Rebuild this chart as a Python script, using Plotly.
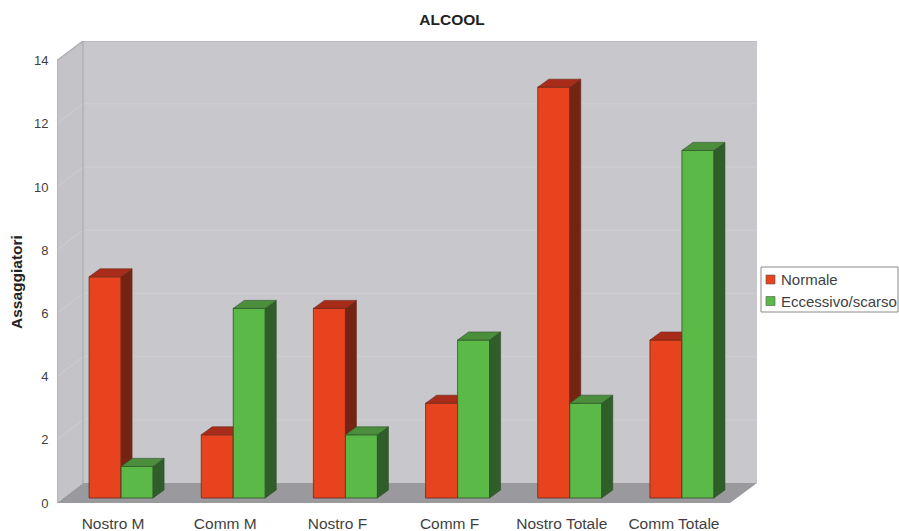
import plotly.graph_objects as go

# Data
categories = ["Nostro M", "Comm M", "Nostro F", "Comm F", "Nostro Totale", "Comm Totale"]
normale = [7, 2, 6, 3, 13, 5]
eccessivo = [1, 6, 2, 5, 3, 11]
y_ticks = [0, 2, 4, 6, 8, 10, 12, 14]
chart_title = "ALCOOL"
y_title = "Assaggiatori"
legend_names = ["Normale", "Eccessivo/scarso"]

# Colours
RED, RED_SIDE, RED_TOP = "#E8431F", "#742415", "#A92C1A"
GREEN, GREEN_SIDE, GREEN_TOP = "#5BB947", "#2F5E2B", "#4B8F3C"
WALL, SIDE_WALL, FLOOR = "#C7C7CC", "#C3C3C8", "#9A9A9E"
GRID, EDGE, TEXT = "#CFCFD3", "#ACACB2", "#3F3F3F"
FONT = "Liberation Sans"

# Page geometry in pixels
WIDTH, HEIGHT = 899, 531
LEFT, RIGHT, TOP, BOTTOM = 57, 757, 41, 503
CAT_PX = 112.17            # one category step
UNIT_PX = 31.6             # one value unit

# Depth of the box and of the bars, in axis units
wall_dx, wall_dy = 26 / CAT_PX, 20 / UNIT_PX
bar_dx, bar_dy = 11 / CAT_PX, 8 / UNIT_PX
shift_x, shift_y = 8 / CAT_PX, 5 / UNIT_PX
half_bar = 32 / CAT_PX

positions = list(range(len(categories)))
x_range = [-0.5, -0.5 + (RIGHT - LEFT) / CAT_PX]
y_range = [0, (BOTTOM - TOP) / UNIT_PX]
x0, x1 = -0.5, -0.5 + (730 - LEFT) / CAT_PX
top = max(y_ticks)


def faces(centres, values, left_offset):
    """Outline of the right side and top of each bar, in axis units."""
    side_x, side_y, top_x, top_y = [], [], [], []
    for c, v in zip(centres, values):
        l = c + shift_x + left_offset
        r = l + half_bar
        b, t = shift_y, v + shift_y
        side_x += [r, r + bar_dx, r + bar_dx, r, r, None]
        side_y += [b, b + bar_dy, t + bar_dy, t, b, None]
        top_x += [l, l + bar_dx, r + bar_dx, r, l, None]
        top_y += [t, t + bar_dy, t + bar_dy, t, t, None]
    return side_x, side_y, top_x, top_y


def add_series(fig, values, left_offset, colour, side, cap, outline, xa, ya):
    fig.add_trace(go.Bar(
        x=[p + shift_x + left_offset + half_bar / 2 for p in positions],
        y=values, base=shift_y, width=half_bar,
        marker=dict(color=colour, line=dict(color=outline, width=0.8)),
        showlegend=False, xaxis=xa, yaxis=ya))
    sx, sy, tx, ty = faces(positions, values, left_offset)
    for fx, fy, c in ((sx, sy, side), (tx, ty, cap)):
        fig.add_trace(go.Scatter(
            x=fx, y=fy, mode="lines", fill="toself", fillcolor=c,
            line=dict(color=outline, width=0.6), hoverinfo="skip",
            showlegend=False, xaxis=xa, yaxis=ya))


fig = go.Figure()
add_series(fig, normale, -half_bar, RED, RED_SIDE, RED_TOP, "#6A2A18", "x", "y")
add_series(fig, eccessivo, 0, GREEN, GREEN_SIDE, GREEN_TOP, "#2E4F28", "x2", "y2")


def polygon(points):
    return "M" + " L".join(f"{a},{b}" for a, b in points) + " Z"


# The box behind the bars
box = [
    (polygon([(x0 + wall_dx, wall_dy), (x_range[1], wall_dy),
              (x_range[1], y_range[1]), (x0 + wall_dx, y_range[1])]), WALL),
    (polygon([(x0, 0), (x0 + wall_dx, wall_dy),
              (x0 + wall_dx, y_range[1]), (x0, top)]), SIDE_WALL),
    (polygon([(x0, 0), (x0 + wall_dx, wall_dy),
              (x_range[1], wall_dy), (x1, 0)]), FLOOR),
]
shapes = [dict(type="path", path=p, xref="x", yref="y", layer="below",
               fillcolor=c, line=dict(width=0)) for p, c in box]

for t in y_ticks[1:]:
    shapes.append(dict(type="line", xref="x", yref="y", layer="below",
                       x0=x0, y0=t, x1=x0 + wall_dx, y1=t + wall_dy,
                       line=dict(color=GRID, width=1)))
    if t < top:
        shapes.append(dict(type="line", xref="x", yref="y", layer="below",
                           x0=x0 + wall_dx, y0=t + wall_dy, x1=x_range[1], y1=t + wall_dy,
                           line=dict(color=GRID, width=1)))

# Edges of the box
for a, b, c, d in [(x0 + wall_dx, wall_dy, x0 + wall_dx, y_range[1]),
                   (x0 + wall_dx, y_range[1], x_range[1], y_range[1]),
                   (x0, top, x0 + wall_dx, y_range[1]),
                   (x0, 0, x0, top)]:
    shapes.append(dict(type="line", xref="x", yref="y", layer="below",
                       x0=a, y0=b, x1=c, y1=d, line=dict(color=EDGE, width=1.2)))


def px(v):
    return (v - LEFT) / (RIGHT - LEFT)


def py(v):
    return (BOTTOM - v) / (BOTTOM - TOP)


# Legend box with its two swatches and labels
shapes.append(dict(type="rect", xref="paper", yref="paper",
                   x0=px(761), x1=px(898), y0=py(267), y1=py(312),
                   fillcolor="white", line=dict(color="#8A8A8A", width=1)))
annotations = []
for name, colour, yc in zip(legend_names, [RED, GREEN], [279.5, 301]):
    shapes.append(dict(type="rect", xref="paper", yref="paper",
                       x0=px(766), x1=px(775), y0=py(yc - 4.5), y1=py(yc + 4.5),
                       fillcolor=colour, line=dict(color="#555555", width=0.6)))
    annotations.append(dict(text=name, xref="paper", yref="paper", x=px(779), y=py(yc),
                            xanchor="left", yanchor="middle", showarrow=False,
                            font=dict(family=FONT, size=15, color=TEXT)))

# Vertical axis caption
annotations.append(dict(text=f"<b>{y_title}</b>", xref="paper", yref="paper",
                        x=px(16), y=py(282), textangle=-90, showarrow=False,
                        xanchor="center", yanchor="middle",
                        font=dict(family=FONT, size=15.5, color="#222222")))

fig.update_layout(
    width=WIDTH, height=HEIGHT, autosize=False,
    margin=dict(l=LEFT, r=WIDTH - RIGHT, t=TOP, b=HEIGHT - BOTTOM, pad=0, autoexpand=False),
    paper_bgcolor="white", plot_bgcolor="white",
    barmode="overlay", showlegend=False,
    title=dict(text=f"<b>{chart_title}</b>", x=452 / WIDTH, xanchor="center",
               y=1 - 20 / HEIGHT, yanchor="middle",
               font=dict(family=FONT, size=15.5, color="#222222")),
    xaxis=dict(range=x_range, tickmode="array", tickvals=positions, ticktext=categories,
               showgrid=False, zeroline=False, showline=False, automargin=False,
               ticks="outside", ticklen=6, tickcolor="rgba(0,0,0,0)",
               tickfont=dict(family=FONT, size=15.5, color=TEXT)),
    yaxis=dict(range=y_range, tickmode="array", tickvals=y_ticks,
               showgrid=False, zeroline=False, showline=False, automargin=False,
               ticks="outside", ticklen=5, tickcolor="rgba(0,0,0,0)",
               tickfont=dict(family=FONT, size=13, color=TEXT)),
    xaxis2=dict(range=x_range, overlaying="x", visible=False),
    yaxis2=dict(range=y_range, overlaying="y", visible=False),
    shapes=shapes, annotations=annotations,
)

fig.write_html("out.html", config=dict(displayModeBar=False))
